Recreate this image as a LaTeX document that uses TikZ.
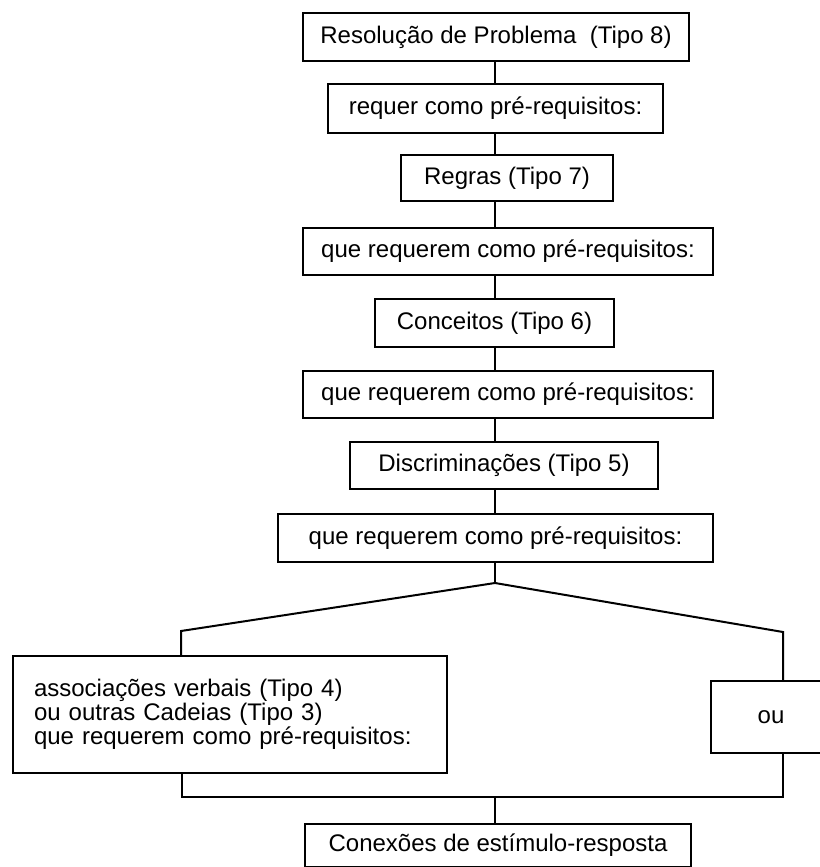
\documentclass[tikz,border=0pt]{standalone}
\usepackage{fontspec}
\setmainfont{Liberation Sans}
\begin{document}
\begin{tikzpicture}[x=0.75pt,y=-0.75pt,
  box/.style={draw, line width=1.5pt, anchor=north west, inner sep=0pt,
    font=\fontsize{18pt}{18pt}\selectfont},
  link/.style={line width=1.5pt}]
\clip (0,0) rectangle (820,867);
\node[box, minimum width=289.5pt, minimum height=36pt] (B1) at (302,12) {Resolução de Problema\ \ (Tipo 8)};
\node[box, minimum width=251.25pt, minimum height=36.75pt] (B2) at (327,83) {requer como pré-requisitos:};
\node[box, minimum width=159pt, minimum height=34.5pt] (B3) at (400,154) {Regras (Tipo 7)};
\node[box, minimum width=307.5pt, minimum height=35.25pt] (B4) at (302,227) {que requerem como pré-requisitos:};
\node[box, minimum width=179.25pt, minimum height=36pt] (B5) at (374,298) {Conceitos (Tipo 6)};
\node[box, minimum width=307.5pt, minimum height=35.25pt] (B6) at (302,370) {que requerem como pré-requisitos:};
\node[box, minimum width=231pt, minimum height=35.25pt] (B7) at (349,441) {Discriminações (Tipo 5)};
\node[box, minimum width=326.25pt, minimum height=36pt] (B8) at (277,513) {que requerem como pré-requisitos:};
\node[box, text width=294pt, inner xsep=15.75pt, align=left, minimum height=87.75pt] (LB) at (12,655)
  {associações verbais (Tipo 4)\\ou outras Cadeias (Tipo 3)\\que requerem como pré-requisitos:};
\node[box, minimum width=90pt, minimum height=54pt] (OU) at (710,680) {ou};
\node[box, minimum width=289.5pt, minimum height=32.25pt] (CX) at (304,823) {Conexões de estímulo-resposta};

\coordinate (ax) at (495,0);
\coordinate (apex) at (495,583);
\coordinate (lc) at (181,631);
\coordinate (rc) at (783,632);
\coordinate (bl) at (182,797);
\coordinate (br) at (783,797);

\draw[link] (B1.south -| ax) -- (B2.north -| ax);
\draw[link] (B2.south -| ax) -- (B3.north -| ax);
\draw[link] (B3.south -| ax) -- (B4.north -| ax);
\draw[link] (B4.south -| ax) -- (B5.north -| ax);
\draw[link] (B5.south -| ax) -- (B6.north -| ax);
\draw[link] (B6.south -| ax) -- (B7.north -| ax);
\draw[link] (B7.south -| ax) -- (B8.north -| ax);
\draw[link] (B8.south -| ax) -- (apex);
\draw[link] (LB.north -| lc) -- (lc) -- (apex) -- (rc) -- (OU.north -| rc);
\draw[link] (LB.south -| bl) -- (bl) -- (br) -- (OU.south -| br);
\draw[link] (ax |- bl) -- (CX.north -| ax);
\end{tikzpicture}
\end{document}
